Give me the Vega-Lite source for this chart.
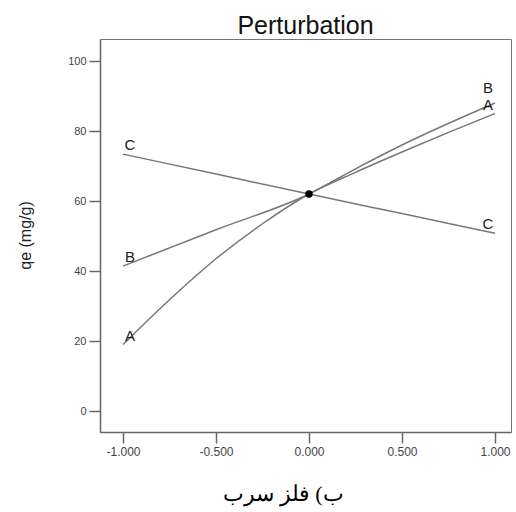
{
  "$schema": "https://vega.github.io/schema/vega-lite/v6.json",
  "width": 411,
  "height": 393,
  "autosize": {"type": "none"},
  "padding": {"left": 100, "top": 39, "right": 5, "bottom": 80},
  "background": "white",
  "title": {
    "text": "Perturbation",
    "font": "Liberation Sans",
    "fontSize": 25,
    "fontWeight": "normal",
    "color": "#111",
    "anchor": "middle",
    "frame": "group",
    "offset": 0
  },
  "config": {
    "view": {"stroke": "#777", "strokeWidth": 1},
    "axis": {
      "grid": false,
      "domainColor": "#666",
      "domainWidth": 1.5,
      "tickColor": "#666",
      "tickWidth": 1.5,
      "labelFont": "Liberation Sans",
      "labelColor": "#444",
      "titleFont": "Liberation Sans"
    }
  },
  "data": {
    "values": [
      {"factor": "A", "x": -1, "qe": 19},
      {"factor": "A", "x": -0.75, "qe": 31.8},
      {"factor": "A", "x": -0.5, "qe": 43.5},
      {"factor": "A", "x": -0.25, "qe": 53.5},
      {"factor": "A", "x": 0, "qe": 62},
      {"factor": "A", "x": 0.25, "qe": 68.2},
      {"factor": "A", "x": 0.5, "qe": 74},
      {"factor": "A", "x": 0.75, "qe": 79.6},
      {"factor": "A", "x": 1, "qe": 85},
      {"factor": "B", "x": -1, "qe": 41.4},
      {"factor": "B", "x": -0.5, "qe": 51.8},
      {"factor": "B", "x": 0, "qe": 62},
      {"factor": "B", "x": 0.25, "qe": 69.2},
      {"factor": "B", "x": 0.5, "qe": 76},
      {"factor": "B", "x": 1, "qe": 88},
      {"factor": "C", "x": -1, "qe": 73.4},
      {"factor": "C", "x": -0.5, "qe": 67.7},
      {"factor": "C", "x": 0, "qe": 62},
      {"factor": "C", "x": 0.5, "qe": 56.4},
      {"factor": "C", "x": 1, "qe": 50.8}
    ]
  },
  "encoding": {
    "x": {
      "field": "x",
      "type": "quantitative",
      "scale": {"domain": [-1.1237, 1.086], "nice": false, "zero": false},
      "axis": {
        "values": [-1, -0.5, 0, 0.5, 1],
        "labelExpr": "(datum.value < 0 ? '-' : '') + format(abs(datum.value), '.3f')",
        "tickSize": 11,
        "labelPadding": 3,
        "labelFontSize": 12,
        "labelFlush": false,
        "title": "ب) فلز سرب",
        "titleFont": "Liberation Serif",
        "titleFontSize": 22,
        "titleFontWeight": "normal",
        "titleColor": "#000",
        "titleX": 183,
        "titleY": 68,
        "titleBaseline": "alphabetic",
        "titleAlign": "center"
      }
    },
    "y": {
      "field": "qe",
      "type": "quantitative",
      "scale": {"domain": [-6, 106.29], "nice": false, "zero": false},
      "axis": {
        "values": [0, 20, 40, 60, 80, 100],
        "tickSize": 11,
        "labelPadding": 3,
        "labelFontSize": 11,
        "labelFlush": false,
        "title": "qe (mg/g)",
        "titleFontSize": 16,
        "titleFontWeight": "normal",
        "titleColor": "#222",
        "titleX": -75,
        "titleY": 196,
        "titleBaseline": "middle",
        "titleAlign": "center",
        "titleAngle": -90
      }
    }
  },
  "layer": [
    {
      "mark": {"type": "line", "color": "#777", "strokeWidth": 1.5, "interpolate": "monotone"},
      "encoding": {"detail": {"field": "factor"}}
    },
    {
      "transform": [{"filter": "datum.x == 0 && datum.factor == 'A'"}],
      "mark": {"type": "point", "filled": true, "color": "#000", "size": 55, "opacity": 1}
    },
    {
      "transform": [{"filter": "datum.x == -1"}],
      "mark": {"type": "text", "dx": 7, "dy": -9, "font": "Liberation Sans", "fontSize": 15, "color": "#222", "baseline": "middle"},
      "encoding": {"text": {"field": "factor"}}
    },
    {
      "transform": [{"filter": "datum.x == 1 && datum.factor != 'B'"}],
      "mark": {"type": "text", "dx": -7, "dy": -9, "font": "Liberation Sans", "fontSize": 15, "color": "#222", "baseline": "middle"},
      "encoding": {"text": {"field": "factor"}}
    },
    {
      "transform": [{"filter": "datum.x == 1 && datum.factor == 'B'"}],
      "mark": {"type": "text", "dx": -7, "dy": -15, "font": "Liberation Sans", "fontSize": 15, "color": "#222", "baseline": "middle"},
      "encoding": {"text": {"field": "factor"}}
    }
  ]
}
